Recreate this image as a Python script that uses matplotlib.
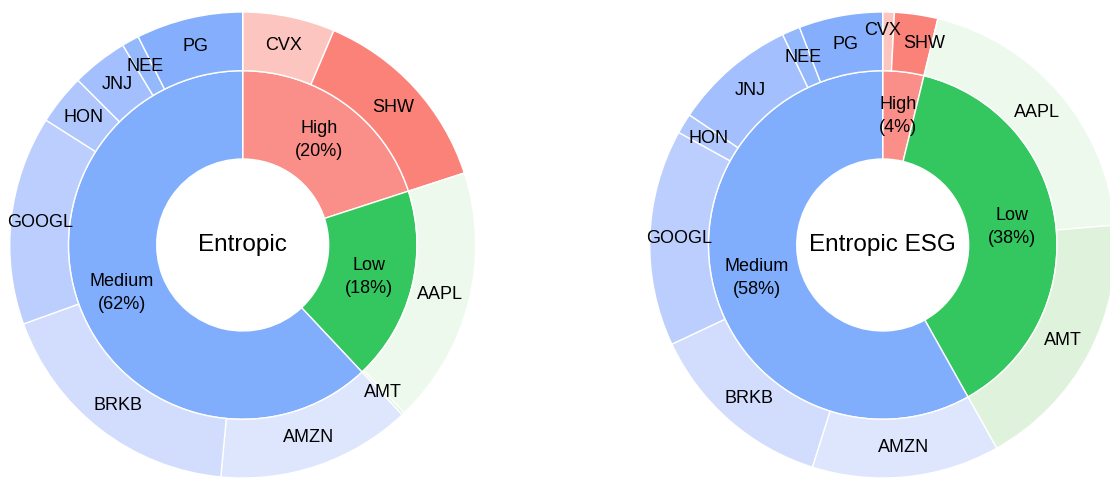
import numpy as np
import matplotlib.pyplot as plt

plt.rcParams['font.family'] = ['Liberation Sans', 'DejaVu Sans']

# risk buckets (inner ring) and holdings (outer ring)
risk = ['High', 'Low', 'Medium']
tickers = ['CVX', 'SHW', 'AAPL', 'AMT', 'AMZN', 'BRKB', 'GOOGL', 'HON', 'JNJ', 'NEE', 'PG']
parent = ['High', 'High', 'Low', 'Low', 'Medium', 'Medium', 'Medium',
          'Medium', 'Medium', 'Medium', 'Medium']

# weights in percent
entropic = [6.4, 13.6, 17.8, 0.2, 13.5, 18.0, 14.5, 3.5, 3.9, 1.2, 7.4]
entropic_esg = [0.8, 3.0, 19.8, 18.2, 13.0, 13.1, 15.0, 1.4, 8.5, 1.25, 5.8]

risk_colors = {'High': '#f98f88', 'Low': '#34c760', 'Medium': '#80aefc'}
ticker_colors = {
    'CVX': '#fdc5c0', 'SHW': '#fa8279',
    'AAPL': '#eef9ee', 'AMT': '#dff2dc',
    'AMZN': '#dee6fe', 'BRKB': '#d2ddfe', 'GOOGL': '#bbcefd', 'HON': '#afc7fd',
    'JNJ': '#a3bffd', 'NEE': '#93b8fc', 'PG': '#85affc',
}

W, H = 1110, 479
R = 233.0          # outer radius in px
r_mid = 0.748      # inner/outer ring boundary
r_hole = 0.369     # white centre circle


def sunburst(ax, values, title, nudge=None):
    nudge = nudge or {}
    inner = [sum(v for v, p in zip(values, parent) if p == k) for k in risk]
    wp = dict(edgecolor='white', linewidth=1.0)
    w_in, _ = ax.pie(inner, radius=r_mid, startangle=90, counterclock=False,
                     colors=[risk_colors[k] for k in risk],
                     wedgeprops=dict(width=r_mid - r_hole, **wp))
    w_out, _ = ax.pie(values, radius=1.0, startangle=90, counterclock=False,
                      colors=[ticker_colors[t] for t in tickers],
                      wedgeprops=dict(width=1.0 - r_mid, **wp))
    rr = (r_mid + r_hole) / 2
    for w, k, v in zip(w_in, risk, inner):
        a = np.deg2rad((w.theta1 + w.theta2) / 2)
        ax.text(rr * np.cos(a), rr * np.sin(a), f'{k}\n({v:.0f}%)',
                ha='center', va='center', fontsize=13, linespacing=1.45)
    rr = (1.0 + r_mid) / 2
    for w, t in zip(w_out, tickers):
        a = np.deg2rad((w.theta1 + w.theta2) / 2)
        dx, dy = nudge.get(t, (0, 0))
        ax.text(rr * np.cos(a) + dx / R, rr * np.sin(a) + dy / R, t,
                ha='center', va='center', fontsize=13)
    ax.text(0, 0, title, ha='center', va='center', fontsize=17.5)
    ax.set_xlim(-1, 1)
    ax.set_ylim(-1, 1)
    ax.axis('off')


fig = plt.figure(figsize=(W / 100, H / 100), dpi=100)
charts = [(242.7, entropic, 'Entropic', {}),
          (882.7, entropic_esg, 'Entropic ESG', {'CVX': (-5, 11), 'SHW': (12, 0)})]
for cx, vals, title, nudge in charts:
    cy = 245.0
    ax = fig.add_axes([(cx - R) / W, (H - cy - R) / H, 2 * R / W, 2 * R / H])
    sunburst(ax, vals, title, nudge)

fig.savefig('out.png', dpi=100)
